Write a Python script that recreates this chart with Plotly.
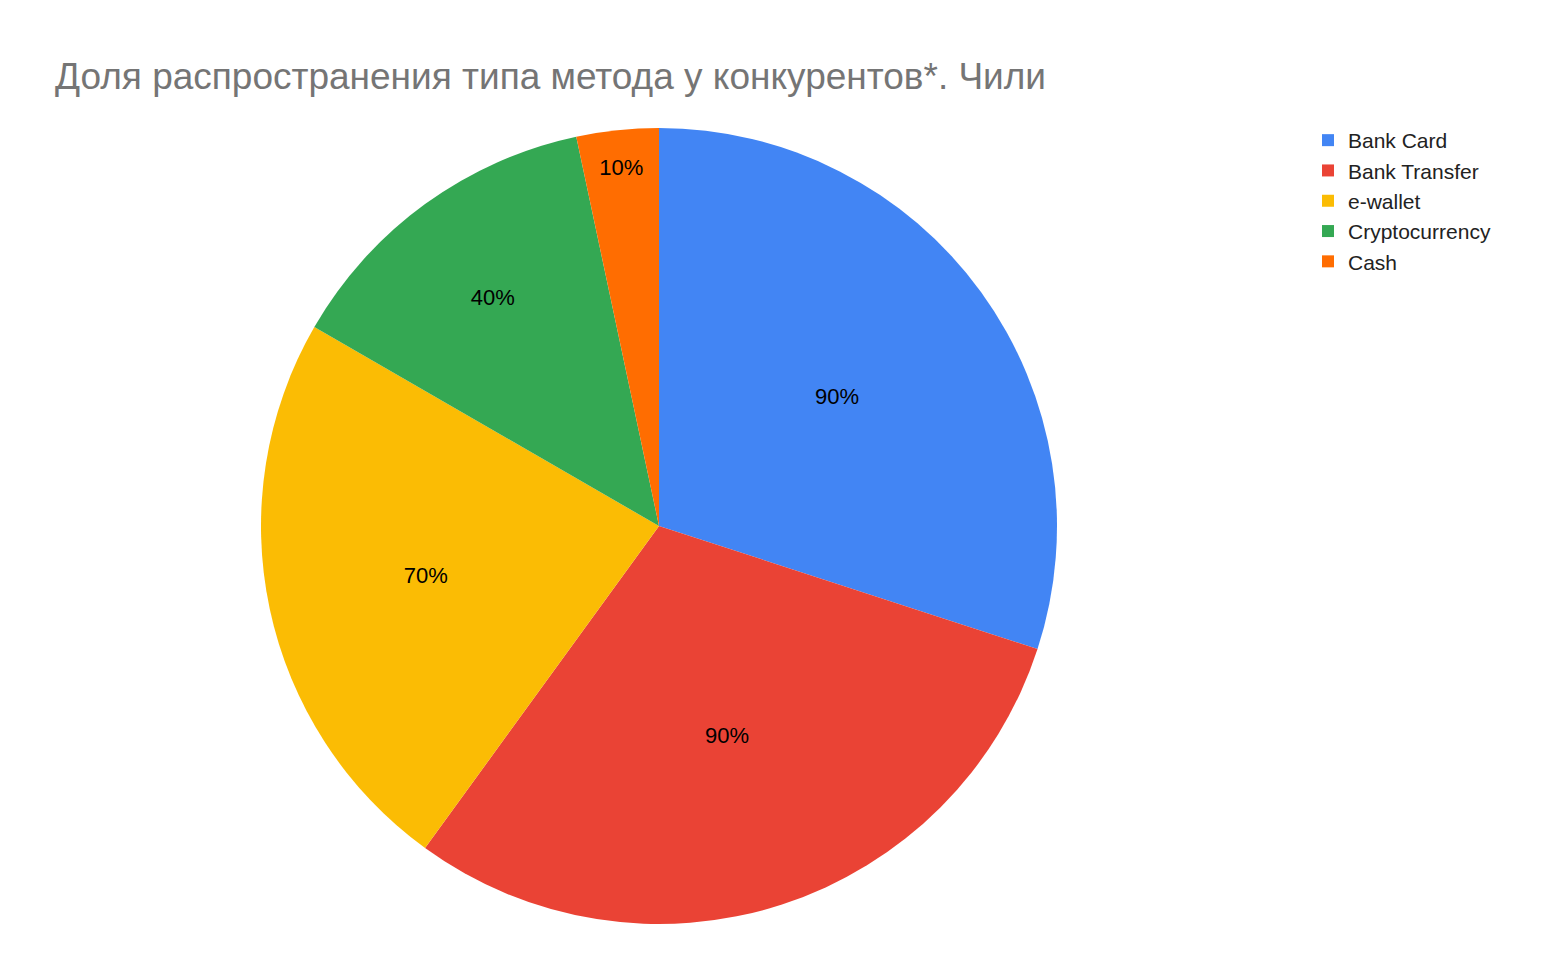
import plotly.graph_objects as go

methods = ["Bank Card", "Bank Transfer", "e-wallet", "Cryptocurrency", "Cash"]
shares = [90, 90, 70, 40, 10]
colors = ["#4285f4", "#ea4335", "#fbbc04", "#34a853", "#ff6d01"]

W, H = 1558, 964

fig = go.Figure(go.Pie(
    labels=methods,
    values=shares,
    text=[f"{v}%" for v in shares],
    textinfo="text",
    textposition="inside",
    insidetextorientation="horizontal",
    textfont=dict(size=22, color="black", family="Liberation Sans, Arial"),
    marker=dict(colors=colors),
    sort=False,
    direction="clockwise",
    rotation=0,
    domain=dict(x=[253 / W, 1049 / W], y=[1 - 916 / H, 1 - 120 / H]),
    hoverinfo="label+value",
))

fig.update_layout(
    width=W, height=H,
    paper_bgcolor="white",
    margin=dict(l=0, r=0, t=0, b=0),
    font=dict(family="Liberation Sans, Arial"),
    title=dict(
        text="Доля распространения типа метода у конкурентов*. Чили",
        x=47 / W, xanchor="left", y=1 - 68 / H, yanchor="middle",
        font=dict(size=37, color="#757575"),
    ),
    legend=dict(
        x=1300 / W, xanchor="left", y=1 - 112 / H, yanchor="top",
        font=dict(size=21, color="#222222"),
        itemsizing="constant", tracegroupgap=4,
    ),
)

fig.write_html("out.html")
